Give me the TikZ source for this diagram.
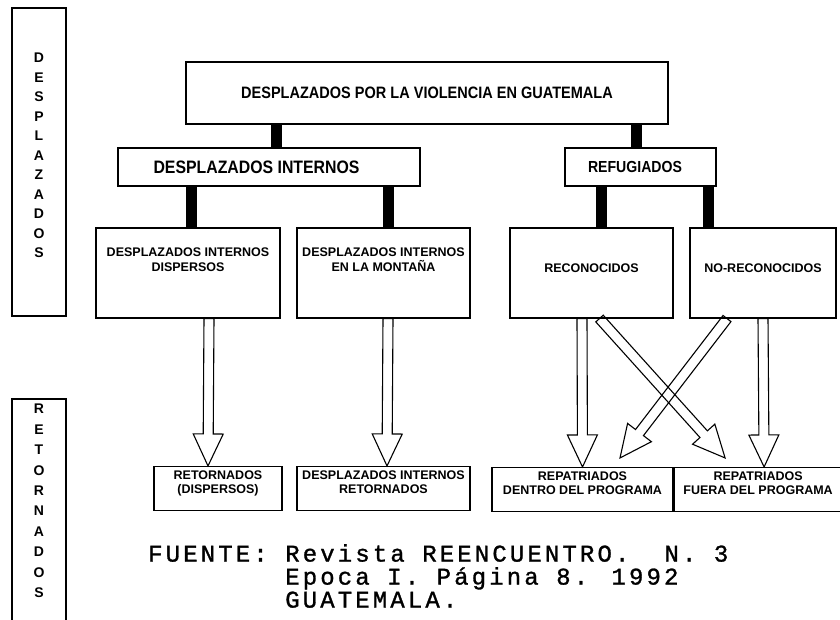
\documentclass[tikz,border=0pt]{standalone}
\usepackage{fontspec}
\setmainfont{Liberation Sans}
\newfontfamily\headfont[FakeStretch=0.88]{Liberation Sans}
\newfontfamily\typefont[LetterSpace=13, FakeBold=1.2]{Liberation Mono}
\usepackage{tikz}
\usetikzlibrary{calc}
\tikzstyle{sidebox} = [rectangle, draw=black, line width=1.8pt, minimum width=54pt, inner sep=0pt, align=center]
\tikzstyle{topbox} = [rectangle, draw=black, line width=1.2pt, inner sep=0pt]
\tikzstyle{midbox} = [rectangle, draw=black, line width=1.1pt, minimum height=90pt, inner sep=0pt, text depth=10pt, align=center, font=\bfseries\fontsize{12.5}{15}\selectfont]
\tikzstyle{lowbox} = [rectangle, draw=black, line width=1.1pt, minimum height=44pt, inner sep=0pt, text depth=12pt, align=center, font=\bfseries\fontsize{12.5}{14}\selectfont]
\tikzstyle{bar} = [line width=11pt]
\tikzstyle{hollow} = [draw=black, line width=1.1pt, line join=miter]
\newcommand{\hdlen}{32pt}
\newcommand{\hdwid}{15pt}
\newcommand{\shwid}{5pt}
% outlined arrow: #1 tail, #2 tip
\newcommand{\hollowarrow}[2]{%
  \coordinate (hb) at ($(#2)!\hdlen!(#1)$);
  \draw[hollow] (#2) -- ($(hb)!\hdwid!90:(#2)$) -- ($(hb)!\shwid!90:(#2)$)
    -- ($(#1)!\shwid!90:(#2)$) -- ($(#1)!\shwid!-90:(#2)$)
    -- ($(hb)!\shwid!-90:(#2)$) -- ($(hb)!\hdwid!-90:(#2)$) -- cycle;}

\begin{document}
\begin{tikzpicture}[x=1pt,y=-1pt]
\useasboundingbox (0,0) rectangle (840,620);
\node (sideD) [sidebox, minimum height=308pt, text depth=13pt, font=\bfseries\fontsize{14}{19.5}\selectfont] at (39,162) {D\\E\\S\\P\\L\\A\\Z\\A\\D\\O\\S};
\node (sideR) [sidebox, minimum height=240pt, text depth=36pt, anchor=north, font=\bfseries\fontsize{14}{20.4}\selectfont] at (39,398) {R\\E\\T\\O\\R\\N\\A\\D\\O\\S};

\node (top) [topbox, minimum width=482pt, minimum height=62pt, font=\headfont\bfseries\fontsize{16.5}{18}\selectfont] at (427,93) {DESPLAZADOS POR LA VIOLENCIA EN GUATEMALA};
\node (intern) [topbox, minimum width=302pt, minimum height=38pt, font=\headfont\bfseries\fontsize{18}{20}\selectfont] at (269,167) {DESPLAZADOS INTERNOS\hspace*{25pt}};
\node (refug) [topbox, minimum width=151pt, minimum height=38pt, font=\headfont\bfseries\fontsize{16}{18}\selectfont] at (640.5,167) {REFUGIADOS\hspace*{11pt}};

\node (disp) [midbox, minimum width=184pt, text depth=27pt] at (188,273) {DESPLAZADOS INTERNOS\\DISPERSOS};
\node (mont) [midbox, minimum width=173pt, text depth=27pt] at (383.5,273) {DESPLAZADOS INTERNOS\\EN LA MONTAÑA};
\node (recon) [midbox, minimum width=163pt] at (591.5,273) {RECONOCIDOS};
\node (norecon) [midbox, minimum width=146pt] at (763,273) {NO-RECONOCIDOS};

\node (retdisp) [lowbox, minimum width=128pt] at (218,488.5) {RETORNADOS\\(DISPERSOS)};
\node (retint) [lowbox, minimum width=173pt] at (383.5,488.5) {DESPLAZADOS INTERNOS\\RETORNADOS};
\node (dentro) [lowbox, minimum width=181pt] at (582.5,489.5) {REPATRIADOS\\DENTRO DEL PROGRAMA};
\node (fuera) [lowbox, minimum width=168pt, anchor=west] at (dentro.east) {REPATRIADOS\\FUERA DEL PROGRAMA};

% solid links
\draw[bar] ([xshift=7pt]intern.north) -- ([xshift=7pt]intern.north |- top.south);
\draw[bar] ([xshift=-4.5pt]refug.north) -- ([xshift=-4.5pt]refug.north |- top.south);
\draw[bar] ([xshift=3pt]disp.north) -- ([xshift=3pt]disp.north |- intern.south);
\draw[bar] ([xshift=5pt]mont.north) -- ([xshift=5pt]mont.north |- intern.south);
\draw[bar] ([xshift=9.5pt]recon.north) -- ([xshift=9.5pt]recon.north |- refug.south);
\draw[bar] ([xshift=-55pt]norecon.north) -- ([xshift=-55pt]norecon.north |- refug.south);

% outlined arrows
\hollowarrow{[xshift=21pt]disp.south}{[xshift=-10pt]retdisp.north}
\hollowarrow{[xshift=4.5pt]mont.south}{[xshift=3.5pt]retint.north}
\hollowarrow{[xshift=-9.5pt]recon.south}{dentro.north}
\hollowarrow{norecon.south}{[xshift=6pt]fuera.north}
\hollowarrow{[xshift=8pt]recon.south}{[xshift=-33pt,yshift=9pt]fuera.north}
\hollowarrow{[xshift=-36pt]norecon.south}{[xshift=37.5pt,yshift=9pt]dentro.north}

\node (fuente) [anchor=north west, inner sep=0pt, align=left, font=\typefont\fontsize{24}{23}\selectfont] at (148,544) {FUENTE:~Revista REENCUENTRO.~~N.~3\\\hphantom{FUENTE:~}Epoca I. Página 8. 1992\\\hphantom{FUENTE:~}GUATEMALA.};
\end{tikzpicture}
\end{document}
